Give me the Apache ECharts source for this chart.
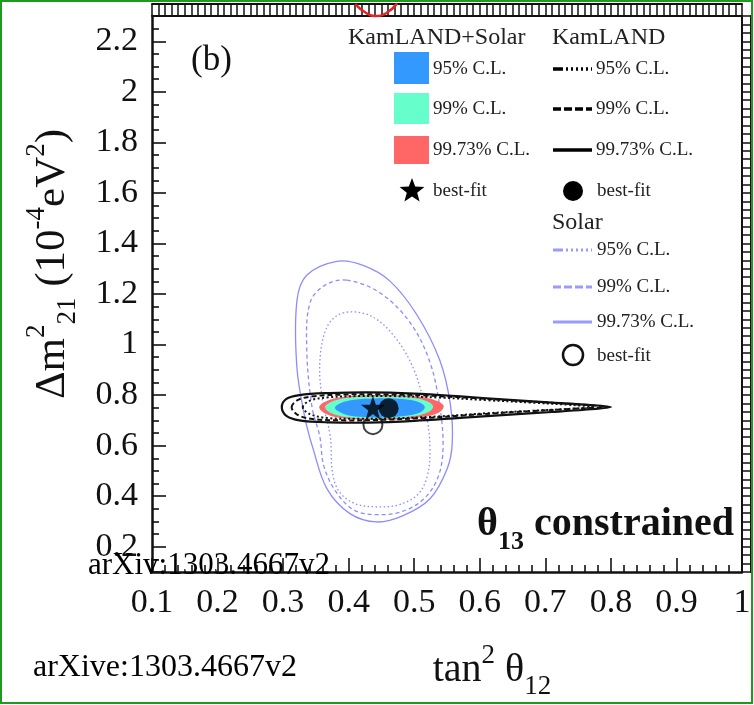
<!DOCTYPE html>
<html>
<head>
<meta charset="utf-8">
<script src="https://cdn.jsdelivr.net/npm/echarts@6.0.0/dist/echarts.min.js"></script>
<style>
html,body{margin:0;padding:0;background:#fff;}
#main{width:754px;height:705px;}
</style>
</head>
<body>
<div id="main"></div>
<script>
// axis extents (tan^2 theta12, dm^2_21 in 1e-4 eV^2)
var xRange = [0.1, 1.0];
var yRange = [0.1, 2.3];

// Solar only contours (lavender lines)
var solar95 = [[0.391,1.125],[0.433,1.114],[0.471,1.028],[0.501,0.891],[0.519,0.714],[0.524,0.590],[0.520,0.480],[0.505,0.405],[0.475,0.365],[0.443,0.358],[0.410,0.370],[0.385,0.420],[0.375,0.500],[0.372,0.636],[0.360,0.780],[0.356,0.930],[0.367,1.070]];
var solar99 = [[0.397,1.255],[0.448,1.204],[0.494,1.086],[0.524,0.930],[0.539,0.754],[0.544,0.597],[0.537,0.480],[0.515,0.390],[0.480,0.338],[0.443,0.327],[0.408,0.345],[0.380,0.420],[0.362,0.520],[0.356,0.636],[0.344,0.754],[0.336,0.988],[0.341,1.165],[0.364,1.235]];
var solar9973 = [[0.382,1.329],[0.422,1.313],[0.463,1.251],[0.504,1.118],[0.539,0.938],[0.555,0.765],[0.558,0.609],[0.550,0.507],[0.524,0.390],[0.483,0.323],[0.443,0.298],[0.402,0.331],[0.367,0.429],[0.346,0.585],[0.333,0.714],[0.321,0.910],[0.321,1.172],[0.336,1.274]];

// KamLAND only contours (black lines)
var kl95 = [[0.33,0.752],[0.34,0.777],[0.365,0.790],[0.41,0.796],[0.47,0.796],[0.54,0.790],[0.61,0.780],[0.68,0.770],[0.74,0.761],[0.775,0.753],[0.74,0.746],[0.68,0.738],[0.61,0.728],[0.54,0.716],[0.47,0.708],[0.41,0.706],[0.365,0.710],[0.34,0.726]];
var kl99 = [[0.313,0.752],[0.322,0.780],[0.345,0.795],[0.39,0.802],[0.45,0.803],[0.52,0.798],[0.59,0.788],[0.66,0.777],[0.73,0.766],[0.79,0.754],[0.73,0.744],[0.66,0.734],[0.59,0.722],[0.52,0.710],[0.45,0.702],[0.39,0.700],[0.345,0.705],[0.322,0.722]];
var kl9973 = [[0.298,0.752],[0.305,0.785],[0.325,0.800],[0.37,0.808],[0.43,0.811],[0.50,0.806],[0.57,0.795],[0.64,0.782],[0.71,0.770],[0.76,0.762],[0.80,0.753],[0.76,0.742],[0.71,0.733],[0.64,0.722],[0.57,0.710],[0.50,0.698],[0.43,0.691],[0.37,0.692],[0.325,0.700],[0.305,0.718]];

// KamLAND+Solar filled regions
var comb95 = [[0.379,0.750],[0.388,0.769],[0.408,0.782],[0.44,0.787],[0.475,0.786],[0.502,0.777],[0.514,0.762],[0.516,0.748],[0.508,0.730],[0.488,0.718],[0.46,0.712],[0.43,0.712],[0.403,0.718],[0.387,0.732]];
var comb99 = [[0.364,0.752],[0.373,0.773],[0.396,0.788],[0.43,0.794],[0.47,0.794],[0.505,0.787],[0.523,0.772],[0.529,0.754],[0.522,0.733],[0.503,0.718],[0.47,0.709],[0.43,0.707],[0.396,0.713],[0.373,0.729]];
var comb9973 = [[0.355,0.752],[0.365,0.775],[0.39,0.792],[0.43,0.799],[0.47,0.799],[0.51,0.792],[0.535,0.777],[0.545,0.756],[0.537,0.730],[0.51,0.712],[0.47,0.703],[0.43,0.702],[0.39,0.708],[0.365,0.726]];

// best fit points
var bestComb = [[0.437, 0.750]];
var bestKL = [[0.461, 0.748]];
var bestSolar = [[0.437, 0.683]];

// piece of the neighbouring panel's contour peeking over the top frame
var topArc = [[0.41,2.347],[0.425,2.315],[0.44,2.300],[0.457,2.311],[0.474,2.350]];

var serif = '"Liberation Serif", "DejaVu Serif", serif';
var ink = '#111';
var solarColor = '#8c8cff';
var starPath = 'path://M50,0 L61.8,35.1 L98.5,35.1 L68.9,57.1 L79.4,92.7 L50,71 L20.6,92.7 L31.1,57.1 L1.5,35.1 L38.2,35.1 Z';

function contour(name, pts, style, z) {
  return {
    type: 'custom', name: name, data: pts, z: z, silent: true, clip: true,
    encode: {x: 0, y: 1},
    renderItem: function (params, api) {
      if (params.dataIndex !== 0) return null;
      return {
        type: 'polygon',
        shape: {points: pts.map(function (p) { return api.coord(p); }), smooth: 0.35},
        style: style
      };
    }
  };
}

function nameRich(size) {
  return {
    t: {fontFamily: serif, fontSize: size, color: ink, lineHeight: size + 4, verticalAlign: 'top', padding: [8, 0, 0, 0]},
    sp: {fontFamily: serif, fontSize: 27, color: ink, lineHeight: 28, verticalAlign: 'top'},
    sb: {fontFamily: serif, fontSize: 27, color: ink, lineHeight: 28, verticalAlign: 'top', padding: [31, 0, 0, 0]}
  };
}

var chart = echarts.init(document.getElementById('main'));

var legendText = function (txt, x, y, size) {
  return {type: 'text', x: x, y: y, z: 100,
    style: {text: txt, font: (size || 19) + 'px ' + serif, fill: '#222', verticalAlign: 'middle'}};
};

chart.setOption({
  animation: false,
  backgroundColor: '#fff',
  grid: {left: 152, right: 12, top: 16, bottom: 128},
  title: [{
    text: '(b)', left: 186, top: 38,
    textStyle: {fontFamily: serif, fontSize: 35, fontWeight: 'normal', color: ink}
  }, {
    text: '{a|θ}{b|13}{a| constrained}', right: 15, top: 500,
    textStyle: {
      rich: {
        a: {fontFamily: serif, fontSize: 40, fontWeight: 'bold', color: ink, lineHeight: 44, verticalAlign: 'top'},
        b: {fontFamily: serif, fontSize: 26, fontWeight: 'bold', color: ink, lineHeight: 28, verticalAlign: 'top', padding: [24, 0, 0, 0]}
      }
    }
  }],
  xAxis: [{
    type: 'value', min: xRange[0], max: xRange[1], interval: 0.1, position: 'bottom',
    axisLine: {onZero: false, lineStyle: {color: ink, width: 2.5}},
    axisTick: {inside: true, length: 14, lineStyle: {color: ink, width: 1.6}},
    minorTick: {show: true, splitNumber: 5, length: 7, lineStyle: {color: ink, width: 1.6}},
    splitLine: {show: false},
    axisLabel: {fontFamily: serif, fontSize: 34, color: ink, margin: 14},
    name: '{t|tan}{sp|2}{t| θ}{sb|12}', nameLocation: 'middle', nameGap: 70,
    nameTextStyle: {rich: nameRich(40), padding: [0, 0, 0, 90]}
  }, {
    type: 'value', min: xRange[0], max: xRange[1], interval: 0.1, position: 'top',
    axisLine: {onZero: false, lineStyle: {color: ink, width: 2}},
    axisTick: {inside: false, length: 12, lineStyle: {color: ink, width: 1.5}},
    minorTick: {show: true, splitNumber: 10, length: 12, lineStyle: {color: ink, width: 1.5}},
    splitLine: {show: false}, axisLabel: {show: false}
  }, {
    type: 'value', min: xRange[0], max: xRange[1], position: 'top', offset: 12,
    axisLine: {onZero: false, lineStyle: {color: ink, width: 2}},
    axisTick: {show: false}, splitLine: {show: false}, axisLabel: {show: false}
  }],
  yAxis: [{
    type: 'value', min: yRange[0], max: yRange[1], splitNumber: 11, position: 'left',
    axisLine: {onZero: false, lineStyle: {color: ink, width: 2.5}},
    axisTick: {inside: true, length: 14, lineStyle: {color: ink, width: 1.6}},
    minorTick: {show: true, splitNumber: 4, length: 7, lineStyle: {color: ink, width: 1.6}},
    splitLine: {show: false},
    axisLabel: {fontFamily: serif, fontSize: 34, color: ink, margin: 14, showMinLabel: false, showMaxLabel: false},
    name: '{t|Δm}{sp|2}{sb|21}{t| (10}{sp|-4}{t|eV}{sp|2}{t|)}', nameLocation: 'middle', nameRotate: 90, nameGap: 82,
    nameTextStyle: {rich: nameRich(43), padding: [0, 0, 0, 60]}
  }, {
    type: 'value', min: yRange[0], max: yRange[1], splitNumber: 11, position: 'right',
    axisLine: {onZero: false, lineStyle: {color: ink, width: 2}},
    axisTick: {inside: false, length: 9, lineStyle: {color: ink, width: 1.5}},
    minorTick: {show: true, splitNumber: 6, length: 9, lineStyle: {color: ink, width: 1.5}},
    splitLine: {show: false}, axisLabel: {show: false}
  }, {
    type: 'value', min: yRange[0], max: yRange[1], position: 'right', offset: 9,
    axisLine: {onZero: false, lineStyle: {color: ink, width: 2}},
    axisTick: {show: false}, splitLine: {show: false}, axisLabel: {show: false}
  }],
  series: [
    contour('Solar 95%', solar95, {fill: 'none', stroke: solarColor, lineWidth: 1.3, lineDash: [1.5, 2.5]}, 2),
    contour('Solar 99%', solar99, {fill: 'none', stroke: solarColor, lineWidth: 1.3, lineDash: [4, 3]}, 2),
    contour('Solar 99.73%', solar9973, {fill: 'none', stroke: solarColor, lineWidth: 1.3}, 2),
    {
      type: 'scatter', name: 'Solar best-fit', data: bestSolar, z: 2, silent: true,
      symbol: 'circle', symbolSize: 19,
      itemStyle: {color: 'rgba(0,0,0,0)', borderColor: ink, borderWidth: 2}
    },
    contour('KamLAND+Solar 99.73%', comb9973, {fill: '#ff6666', stroke: 'none'}, 3),
    contour('KamLAND+Solar 99%', comb99, {fill: '#66ffcc', stroke: 'none'}, 3),
    contour('KamLAND+Solar 95%', comb95, {fill: '#3399ff', stroke: 'none'}, 3),
    contour('KamLAND 95%', kl95, {fill: 'none', stroke: ink, lineWidth: 2, lineDash: [2, 2.5]}, 4),
    contour('KamLAND 99%', kl99, {fill: 'none', stroke: ink, lineWidth: 2, lineDash: [5, 3]}, 4),
    contour('KamLAND 99.73%', kl9973, {fill: 'none', stroke: ink, lineWidth: 2.2}, 4),
    {
      type: 'scatter', name: 'KamLAND best-fit', data: bestKL, z: 5, silent: true,
      symbol: 'circle', symbolSize: 20, itemStyle: {color: '#000'}
    },
    {
      type: 'scatter', name: 'KamLAND+Solar best-fit', data: bestComb, z: 6, silent: true,
      symbol: starPath, symbolSize: 24, itemStyle: {color: '#000'}
    },
    {
      type: 'line', name: 'neighbour', data: topArc, clip: false, smooth: true, z: 1, silent: true,
      showSymbol: false, lineStyle: {color: '#e52222', width: 2.5}
    }
  ],
  graphic: [
    legendText('KamLAND+Solar', 348, 38, 24),
    legendText('KamLAND', 552, 38, 24),
    {type: 'rect', shape: {x: 394, y: 52, width: 35, height: 32}, style: {fill: '#3399ff'}},
    {type: 'rect', shape: {x: 394, y: 93, width: 35, height: 31}, style: {fill: '#66ffcc'}},
    {type: 'rect', shape: {x: 394, y: 136, width: 35, height: 28}, style: {fill: '#ff6666'}},
    legendText('95% C.L.', 433, 69),
    legendText('99% C.L.', 433, 109),
    legendText('99.73% C.L.', 433, 150),
    legendText('best-fit', 433, 191),
    {type: 'polygon', shape: {points: [[412,178],[415.2,186.5],[424.4,187],[417.2,192.7],[419.6,201.5],[412,196.5],[404.4,201.5],[406.8,192.7],[399.6,187],[408.8,186.5]]}, style: {fill: '#000'}},
    {type: 'line', shape: {x1: 553, y1: 69, x2: 592, y2: 69}, style: {stroke: '#000', lineWidth: 3.5, lineDash: [10, 3, 2, 3, 2, 3, 2, 3, 2, 3, 2, 3]}},
    {type: 'line', shape: {x1: 553, y1: 109, x2: 592, y2: 109}, style: {stroke: '#000', lineWidth: 3.5, lineDash: [8, 3]}},
    {type: 'line', shape: {x1: 553, y1: 150, x2: 592, y2: 150}, style: {stroke: '#000', lineWidth: 3.5}},
    {type: 'circle', shape: {cx: 573, cy: 191, r: 10}, style: {fill: '#000'}},
    legendText('95% C.L.', 596, 69),
    legendText('99% C.L.', 596, 109),
    legendText('99.73% C.L.', 596, 150),
    legendText('best-fit', 597, 191),
    legendText('Solar', 552, 223, 24),
    {type: 'line', shape: {x1: 553, y1: 250, x2: 592, y2: 250}, style: {stroke: '#9a9aff', lineWidth: 3, lineDash: [10, 3, 2, 3, 2, 3, 2, 3, 2, 3, 2, 3]}},
    {type: 'line', shape: {x1: 553, y1: 287, x2: 592, y2: 287}, style: {stroke: '#9a9aff', lineWidth: 3, lineDash: [8, 3]}},
    {type: 'line', shape: {x1: 553, y1: 322, x2: 592, y2: 322}, style: {stroke: '#9a9aff', lineWidth: 3}},
    {type: 'circle', shape: {cx: 573, cy: 355, r: 10}, style: {fill: 'none', stroke: ink, lineWidth: 2.5}},
    legendText('95% C.L.', 597, 250),
    legendText('99% C.L.', 597, 287),
    legendText('99.73% C.L.', 597, 322),
    legendText('best-fit', 597, 356),
    {type: 'text', x: 88, y: 566, z: 100, style: {text: 'arXiv:1303.4667v2', font: '31px ' + serif, fill: '#000', verticalAlign: 'middle'}},
    {type: 'text', x: 33, y: 668, z: 100, style: {text: 'arXive:1303.4667v2', font: '32px ' + serif, fill: '#000', verticalAlign: 'middle'}},
    {type: 'rect', z: 100, shape: {x: 1, y: 1, width: 751, height: 702}, style: {fill: 'none', stroke: '#1f9a1f', lineWidth: 2}}
  ]
});
</script>
</body>
</html>
